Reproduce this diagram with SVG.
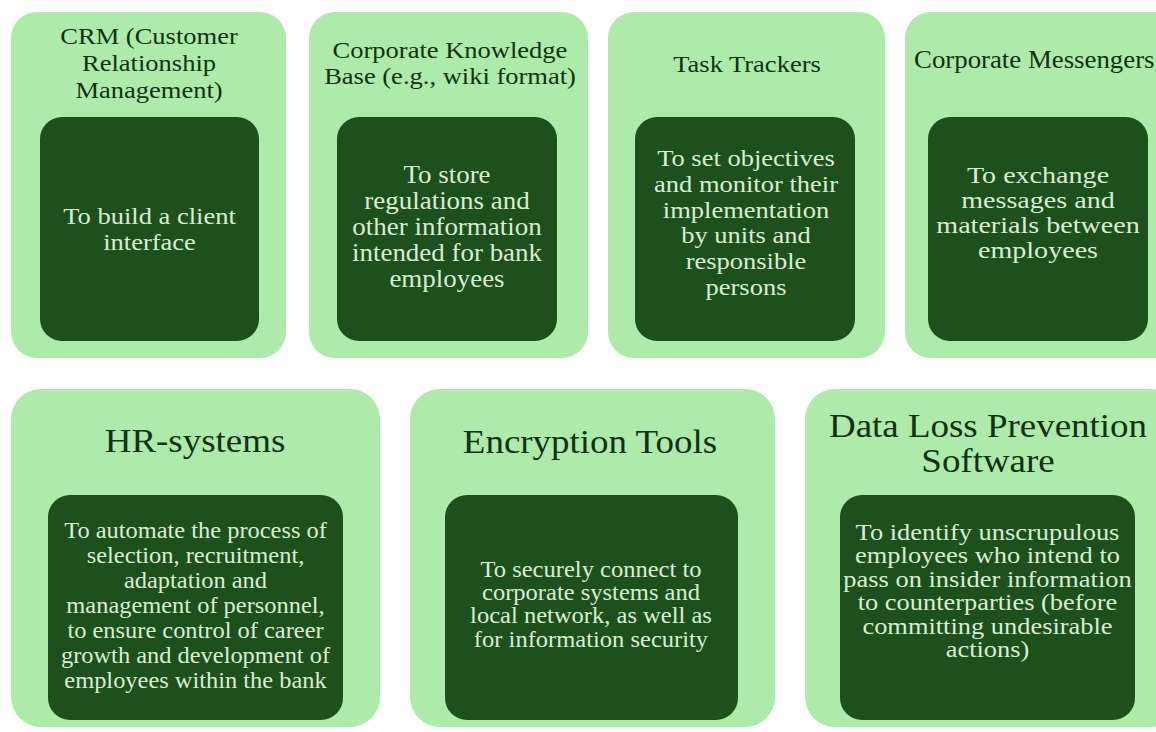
<svg xmlns="http://www.w3.org/2000/svg" width="1156" height="732" viewBox="0 0 1156 732">
<style>
.outer{fill:#aeeaa9}
.inner{fill:#1d501c}
.t{font-family:"Liberation Serif","Times New Roman",serif;text-anchor:middle;fill:#0e3312}
.d{font-family:"Liberation Serif","Times New Roman",serif;text-anchor:middle;fill:#d8eed3}
</style>
<rect width="1156" height="732" fill="#ffffff"/>

<g id="crm">
<rect class="outer" x="11" y="12" width="275" height="346" rx="26"/>
<rect class="inner" x="40" y="117" width="219" height="224" rx="22"/>
<text class="t" font-size="24.1" transform="translate(149,0) scale(1.1,1)"><tspan x="0" y="44">CRM (Customer</tspan><tspan x="0" y="71">Relationship</tspan><tspan x="0" y="98">Management)</tspan></text>
<text class="d" font-size="24.1" transform="translate(149.5,0) scale(1.1,1)"><tspan x="0" y="224">To build a client</tspan><tspan x="0" y="250">interface</tspan></text>
</g>

<g id="knowledge-base">
<rect class="outer" x="309" y="12" width="279" height="346" rx="26"/>
<rect class="inner" x="337" y="117" width="220" height="224" rx="22"/>
<text class="t" font-size="24.1" transform="translate(450,0) scale(1.1,1)"><tspan x="0" y="58">Corporate Knowledge</tspan><tspan x="0" y="84">Base (e.g., wiki format)</tspan></text>
<text class="d" font-size="24.5" transform="translate(447,0) scale(1.1,1)"><tspan x="0" y="183">To store</tspan><tspan x="0" y="209">regulations and</tspan><tspan x="0" y="235">other information</tspan><tspan x="0" y="261">intended for bank</tspan><tspan x="0" y="287">employees</tspan></text>
</g>

<g id="task-trackers">
<rect class="outer" x="608" y="12" width="277" height="346" rx="26"/>
<rect class="inner" x="635" y="117" width="220" height="224" rx="22"/>
<text class="t" font-size="24.1" transform="translate(747,0) scale(1.1,1)"><tspan x="0" y="72">Task Trackers</tspan></text>
<text class="d" font-size="24.1" transform="translate(746,0) scale(1.1,1)"><tspan x="0" y="166">To set objectives</tspan><tspan x="0" y="192">and monitor their</tspan><tspan x="0" y="218">implementation</tspan><tspan x="0" y="243">by units and</tspan><tspan x="0" y="269">responsible</tspan><tspan x="0" y="295">persons</tspan></text>
</g>

<g id="messengers">
<rect class="outer" x="905" y="12" width="275" height="346" rx="26"/>
<rect class="inner" x="928" y="117" width="220" height="224" rx="22"/>
<text class="t" font-size="24.4" style="text-anchor:start" transform="translate(914,0) scale(1.1,1)"><tspan x="0" y="68">Corporate Messengers</tspan></text>
<text class="d" font-size="23.8" transform="translate(1038,0) scale(1.18,1)"><tspan x="0" y="183">To exchange</tspan><tspan x="0" y="208">messages and</tspan><tspan x="0" y="233">materials between</tspan><tspan x="0" y="258">employees</tspan></text>
</g>

<g id="hr-systems">
<rect class="outer" x="11" y="389" width="369" height="338" rx="30"/>
<rect class="inner" x="48" y="495" width="295" height="225" rx="22"/>
<text class="t" font-size="33.6" transform="translate(195,0) scale(1.1,1)"><tspan x="0" y="452">HR-systems</tspan></text>
<text class="d" font-size="22.2" transform="translate(195.5,0) scale(1.1,1)"><tspan x="0" y="538">To automate the process of</tspan><tspan x="0" y="563">selection, recruitment,</tspan><tspan x="0" y="588">adaptation and</tspan><tspan x="0" y="613">management of personnel,</tspan><tspan x="0" y="638">to ensure control of career</tspan><tspan x="0" y="663">growth and development of</tspan><tspan x="0" y="688">employees within the bank</tspan></text>
</g>

<g id="encryption-tools">
<rect class="outer" x="410" y="389" width="365" height="338" rx="30"/>
<rect class="inner" x="445" y="495" width="293" height="225" rx="22"/>
<text class="t" font-size="33.6" transform="translate(590,0) scale(1.1,1)"><tspan x="0" y="453">Encryption Tools</tspan></text>
<text class="d" font-size="22.3" transform="translate(591,0) scale(1.1,1)"><tspan x="0" y="577">To securely connect to</tspan><tspan x="0" y="600">corporate systems and</tspan><tspan x="0" y="623">local network, as well as</tspan><tspan x="0" y="647">for information security</tspan></text>
</g>

<g id="dlp-software">
<rect class="outer" x="805" y="389" width="375" height="338" rx="30"/>
<rect class="inner" x="840" y="495" width="295" height="225" rx="22"/>
<text class="t" font-size="33.6" transform="translate(988,0) scale(1.1,1)"><tspan x="0" y="437">Data Loss Prevention</tspan><tspan x="0" y="472">Software</tspan></text>
<text class="d" font-size="22.4" transform="translate(987.5,0) scale(1.18,1)"><tspan x="0" y="540">To identify unscrupulous</tspan><tspan x="0" y="563.5">employees who intend to</tspan><tspan x="0" y="587">pass on insider information</tspan><tspan x="0" y="610.5">to counterparties (before</tspan><tspan x="0" y="634">committing undesirable</tspan><tspan x="0" y="657.5">actions)</tspan></text>
</g>
</svg>
